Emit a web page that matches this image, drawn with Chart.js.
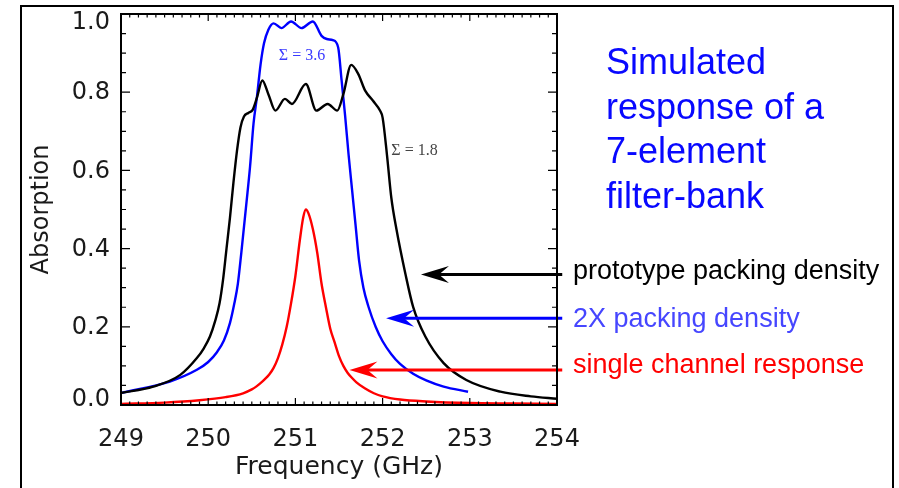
<!DOCTYPE html>
<html>
<head>
<meta charset="utf-8">
<script src="https://cdn.jsdelivr.net/npm/chart.js@4.4.1/dist/chart.umd.min.js"></script>
<style>
  html, body { margin: 0; padding: 0; background: #fff; }
  #wrap { width: 899px; height: 488px; }
</style>
</head>
<body>
<div id="wrap"><canvas id="filterChart" width="899" height="488"></canvas></div>
<script>
// Ejes
const xTicks = [249, 250, 251, 252, 253, 254];
const yTicks = [0.0, 0.2, 0.4, 0.6, 0.8, 1.0];

// Densidad prototipo (negro)
const freqBlack = [249.0, 249.37, 249.68, 249.87, 249.95, 250.02, 250.08, 250.13, 250.17, 250.21, 250.25, 250.29,
  250.33, 250.37, 250.41, 250.46, 250.51, 250.56, 250.62, 250.69, 250.77, 250.88, 250.96, 251.12, 251.24,
  251.37, 251.48, 251.55, 251.64, 251.72, 251.80, 251.89, 251.97, 252.0, 252.05, 252.1, 252.16, 252.26,
  252.35, 252.49, 252.70, 252.96, 253.35, 253.70, 254.0];
const absBlack = [0.031, 0.047, 0.077, 0.12, 0.145, 0.175, 0.215, 0.26, 0.32, 0.40, 0.48, 0.57,
  0.65, 0.71, 0.738, 0.747, 0.755, 0.787, 0.83, 0.795, 0.753, 0.783, 0.77, 0.821, 0.753,
  0.77, 0.753, 0.795, 0.87, 0.847, 0.804, 0.778, 0.753, 0.735, 0.64, 0.53, 0.448, 0.337,
  0.251, 0.175, 0.107, 0.064, 0.034, 0.022, 0.016];

// Densidad 2X (azul)
const freqBlue = [249.0, 249.56, 249.87, 250.0, 250.1, 250.18, 250.25, 250.3, 250.34, 250.38, 250.44, 250.48,
  250.52, 250.56, 250.6, 250.64, 250.69, 250.75, 250.84, 250.95, 251.07, 251.2, 251.3, 251.36, 251.43,
  251.49, 251.53, 251.57, 251.61, 251.65, 251.69, 251.73, 251.78, 251.84, 251.92, 252.0, 252.1, 252.2,
  252.35, 252.5, 252.7, 252.98];
const absBlue = [0.031, 0.06, 0.09, 0.11, 0.135, 0.165, 0.21, 0.26, 0.31, 0.39, 0.52, 0.61,
  0.72, 0.79, 0.87, 0.925, 0.96, 0.976, 0.964, 0.981, 0.964, 0.981, 0.944, 0.936, 0.933,
  0.915, 0.83, 0.74, 0.64, 0.55, 0.46, 0.37, 0.30, 0.25, 0.2, 0.163, 0.13, 0.105,
  0.08, 0.063, 0.047, 0.034];

// Canal individual (rojo)
const freqRed = [249.0, 249.5, 249.9, 250.2, 250.4, 250.5, 250.55, 250.6, 250.65, 250.7, 250.75, 250.8, 250.85,
  250.9, 250.95, 251.0, 251.05, 251.09, 251.12, 251.15, 251.2, 251.25, 251.3, 251.35, 251.4, 251.45,
  251.5, 251.55, 251.6, 251.65, 251.7, 251.8, 251.9, 252.0, 252.2, 252.5, 253.0, 253.5, 254.0];
const absRed = [0.003, 0.006, 0.012, 0.02, 0.03, 0.04, 0.047, 0.056, 0.066, 0.078, 0.095, 0.12, 0.155,
  0.2, 0.26, 0.33, 0.42, 0.48, 0.5, 0.49, 0.45, 0.39, 0.31, 0.25, 0.195, 0.16,
  0.125, 0.1, 0.082, 0.069, 0.058, 0.042, 0.03, 0.022, 0.014, 0.009, 0.005, 0.004, 0.003];

const toPoints = (xs, ys) => xs.map((x, i) => ({ x: x, y: ys[i] }));

// Anotaciones (en unidades de datos)
const arrows = [
  { y: 0.334, from: 254.06, to: 252.44, color: '#000000' },
  { y: 0.222, from: 254.06, to: 252.04, color: '#0000ff' },
  { y: 0.0895, from: 254.06, to: 251.62, color: '#ff0000' }
];
const sideLabels = [
  { text: 'prototype packing density', y: 0.321, color: '#000000' },
  { text: '2X packing density', y: 0.199, color: '#4646ff' },
  { text: 'single channel response', y: 0.081, color: '#ff0000' }
];
const titleLines = ['Simulated', 'response of a', '7-element', 'filter-bank'];

const framePlugin = {
  id: 'frame',
  afterDatasetsDraw(chart) {
    const ctx = chart.ctx;
    const xs = chart.scales.x, ys = chart.scales.y;
    const a = chart.chartArea;
    ctx.save();

    // Flechas
    arrows.forEach(ar => {
      const y = ys.getPixelForValue(ar.y);
      const x1 = xs.getPixelForValue(ar.from);
      const x2 = xs.getPixelForValue(ar.to);
      ctx.strokeStyle = ar.color;
      ctx.fillStyle = ar.color;
      ctx.lineWidth = 3;
      ctx.beginPath();
      ctx.moveTo(x1, y);
      ctx.lineTo(x2 + 16, y);
      ctx.stroke();
      ctx.beginPath();
      ctx.moveTo(x2, y);
      ctx.lineTo(x2 + 28, y - 8.5);
      ctx.lineTo(x2 + 18, y);
      ctx.lineTo(x2 + 28, y + 8.5);
      ctx.closePath();
      ctx.fill();
    });

    // Etiquetas Sigma
    ctx.font = '16px "Liberation Serif"';
    ctx.textBaseline = 'middle';
    ctx.textAlign = 'center';
    ctx.fillStyle = '#3a3aff';
    ctx.fillText('\u03A3 = 3.6', xs.getPixelForValue(251.076), ys.getPixelForValue(0.893));
    ctx.textAlign = 'left';
    ctx.fillStyle = '#444444';
    ctx.fillText('\u03A3 = 1.8', xs.getPixelForValue(252.10), ys.getPixelForValue(0.650));

    // Etiquetas del eje Y (los extremos quedan dentro del marco)
    ctx.font = '24px "DejaVu Sans"';
    ctx.fillStyle = '#1a1a1a';
    ctx.textAlign = 'right';
    yTicks.forEach(v => {
      const py = Math.min(Math.max(ys.getPixelForValue(v) + 1, a.top + 9), a.bottom - 5);
      ctx.fillText(v.toFixed(1), a.left - 11, py);
    });

    // Etiquetas laterales
    ctx.textAlign = 'left';
    ctx.font = '27px "Liberation Sans"';
    ctx.textBaseline = 'alphabetic';
    sideLabels.forEach(l => {
      ctx.fillStyle = l.color;
      ctx.fillText(l.text, a.right + 16, ys.getPixelForValue(l.y));
    });

    // Titulo
    ctx.font = '36px "Liberation Sans"';
    ctx.fillStyle = '#0808ff';
    titleLines.forEach((t, i) => {
      ctx.fillText(t, a.right + 49, a.top + 60 + i * 44.5);
    });

    // Marco de ejes
    ctx.strokeStyle = '#000';
    ctx.lineWidth = 2;
    ctx.strokeRect(a.left, a.top, a.right - a.left, a.bottom - a.top);

    // Marcas hacia dentro
    ctx.lineWidth = 1.2;
    ctx.beginPath();
    for (let i = 0; i <= 50; i++) {
      const px = xs.getPixelForValue(249 + i / 10);
      const len = i % 10 === 0 ? 7 : 3.5;
      ctx.moveTo(px, a.bottom); ctx.lineTo(px, a.bottom - len);
      ctx.moveTo(px, a.top); ctx.lineTo(px, a.top + len);
    }
    for (let i = 0; i <= 20; i++) {
      const py = ys.getPixelForValue(i * 0.05);
      const len = i % 4 === 0 ? 9 : 5;
      ctx.moveTo(a.left, py); ctx.lineTo(a.left + len, py);
      ctx.moveTo(a.right, py); ctx.lineTo(a.right - len, py);
    }
    ctx.stroke();

    // Marco exterior
    ctx.lineWidth = 2;
    ctx.strokeRect(21, 6, 872, 500);
    ctx.restore();
  }
};

const axisFont = { family: 'DejaVu Sans', size: 24 };
const lineStyle = { borderWidth: 2.4, pointRadius: 0, cubicInterpolationMode: 'monotone', fill: false };

const filterConfig = {
  type: 'line',
  data: {
    datasets: [
      Object.assign({ label: 'prototype packing density', data: toPoints(freqBlack, absBlack), borderColor: '#000000' }, lineStyle),
      Object.assign({ label: '2X packing density', data: toPoints(freqBlue, absBlue), borderColor: '#0000ff' }, lineStyle),
      Object.assign({ label: 'single channel response', data: toPoints(freqRed, absRed), borderColor: '#ff0000' }, lineStyle)
    ]
  },
  options: {
    responsive: false,
    animation: false,
    devicePixelRatio: 1,
    layout: { padding: { left: 0, top: 14, right: 342, bottom: 0 } },
    plugins: { legend: { display: false }, tooltip: { enabled: false } },
    scales: {
      x: {
        type: 'linear', min: 249, max: 254,
        grid: { display: false, drawTicks: false },
        border: { display: false },
        afterBuildTicks: s => { s.ticks = xTicks.map(v => ({ value: v })); },
        afterFit: s => { s.height = 83; s.paddingLeft = 0; },
        ticks: { font: axisFont, color: '#1a1a1a', padding: 20, maxRotation: 0 },
        title: { display: true, text: 'Frequency (GHz)', font: { family: 'DejaVu Sans', size: 25 },
          color: '#1a1a1a', padding: { top: 0, bottom: 6 } }
      },
      y: {
        type: 'linear', min: 0, max: 1,
        grid: { display: false, drawTicks: false },
        border: { display: false },
        afterBuildTicks: s => { s.ticks = yTicks.map(v => ({ value: v })); },
        afterFit: s => { s.width = 121; s.paddingTop = 0; s.paddingBottom = 0; },
        ticks: { display: false },
        title: { display: true, text: 'Absorption', font: { family: 'DejaVu Sans', size: 24 },
          color: '#1a1a1a', padding: { top: 27, bottom: 0 } }
      }
    }
  },
  plugins: [framePlugin]
};

const filterChart = new Chart(document.getElementById('filterChart'), filterConfig);
</script>
</body>
</html>
